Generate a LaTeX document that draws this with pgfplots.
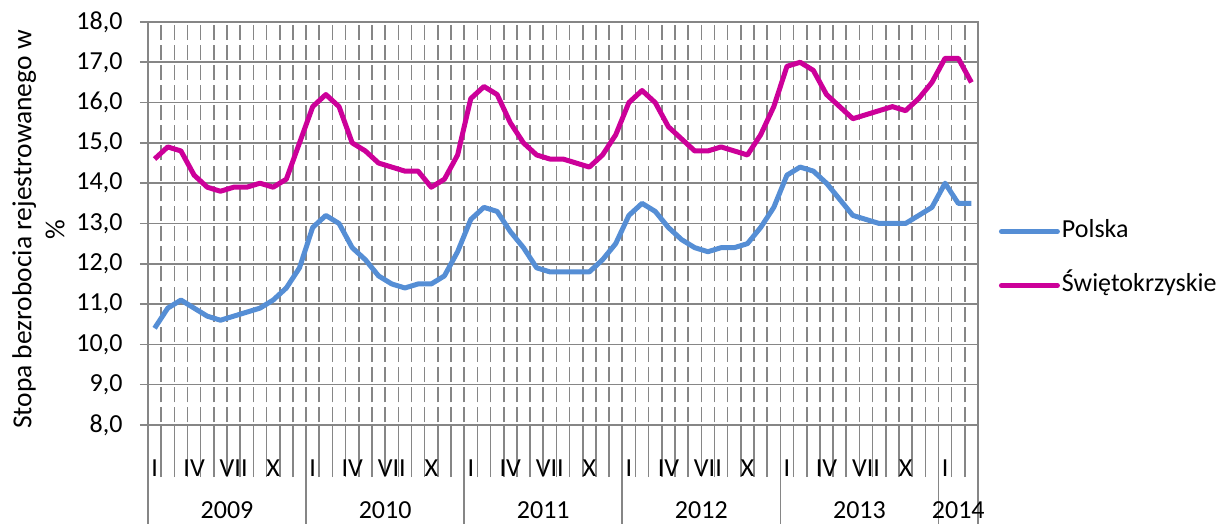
\documentclass[border=0pt]{standalone}
\usepackage{fontspec}
\setmainfont{Carlito}
\usepackage{pgfplots}
\usepackage{pgfplotstable}
\pgfplotsset{compat=1.18}

\definecolor{polska}{RGB}{85,142,213}
\definecolor{swiet}{RGB}{204,0,153}
\definecolor{gridgray}{RGB}{134,134,134}
\newcommand\cf{\fontsize{26}{31}\selectfont}

% monthly unemployment rate, I.2009 - III.2014
\pgfplotstableread{
x    pol   swi
0.5  10.4  14.6
1.5  10.9  14.9
2.5  11.1  14.8
3.5  10.9  14.2
4.5  10.7  13.9
5.5  10.6  13.8
6.5  10.7  13.9
7.5  10.8  13.9
8.5  10.9  14.0
9.5  11.1  13.9
10.5 11.4  14.1
11.5 11.9  15.0
12.5 12.9  15.9
13.5 13.2  16.2
14.5 13.0  15.9
15.5 12.4  15.0
16.5 12.1  14.8
17.5 11.7  14.5
18.5 11.5  14.4
19.5 11.4  14.3
20.5 11.5  14.3
21.5 11.5  13.9
22.5 11.7  14.1
23.5 12.3  14.7
24.5 13.1  16.1
25.5 13.4  16.4
26.5 13.3  16.2
27.5 12.8  15.5
28.5 12.4  15.0
29.5 11.9  14.7
30.5 11.8  14.6
31.5 11.8  14.6
32.5 11.8  14.5
33.5 11.8  14.4
34.5 12.1  14.7
35.5 12.5  15.2
36.5 13.2  16.0
37.5 13.5  16.3
38.5 13.3  16.0
39.5 12.9  15.4
40.5 12.6  15.1
41.5 12.4  14.8
42.5 12.3  14.8
43.5 12.4  14.9
44.5 12.4  14.8
45.5 12.5  14.7
46.5 12.9  15.2
47.5 13.4  15.9
48.5 14.2  16.9
49.5 14.4  17.0
50.5 14.3  16.8
51.5 14.0  16.2
52.5 13.6  15.9
53.5 13.2  15.6
54.5 13.1  15.7
55.5 13.0  15.8
56.5 13.0  15.9
57.5 13.0  15.8
58.5 13.2  16.1
59.5 13.4  16.5
60.5 14.0  17.1
61.5 13.5  17.1
62.5 13.5  16.5
}\dane

\begin{document}
\begin{tikzpicture}
\path[use as bounding box] (0pt,0pt) rectangle (1221pt,524pt);

\begin{axis}[
  at={(148pt,99pt)}, anchor=south west,
  scale only axis, width=830pt, height=403pt,
  xmin=0, xmax=63, ymin=8, ymax=18,
  axis line style={gridgray, line width=1.6pt},
  every tick/.style={gridgray, line width=1.6pt},
  tick align=outside,
  xtick pos=bottom, ytick pos=left,
  major tick length=8pt,
  minor tick length=52pt,
  xtick={0.5,3.5,...,60.5},
  xticklabels={I,IV,VII,X,I,IV,VII,X,I,IV,VII,X,I,IV,VII,X,I,IV,VII,X,I},
  major x tick style={draw=none},
  minor xtick={0,1,...,63},
  ytick={8,9,...,18},
  xmajorgrids=false, xminorgrids=true, ymajorgrids=true,
  minor grid style={gridgray, line width=1.6pt, dash pattern=on 15pt off 5.15pt, dash phase=17.575pt},
  major grid style={gridgray, line width=1.6pt},
  xticklabel style={font=\cf, anchor=base, yshift=-43.5pt},
  yticklabel style={font=\cf, anchor=east, xshift=-14pt,
    /pgf/number format/.cd, fixed, fixed zerofill, precision=1, use comma, assume math mode=true},
  ylabel={Stopa bezrobocia rejestrowanego w\\\%},
  ylabel style={font=\fontsize{27.5}{33}\selectfont, align=center,
    at={(axis description cs:-0.132,0.485)}, anchor=center},
  legend style={at={(1.025,0.413)}, anchor=west, draw=none, fill=none,
    inner sep=0pt, font=\cf, row sep=28pt,
    nodes={text height=17pt, text depth=5pt}, cells={anchor=west}},
  legend image code/.code={\draw[#1, line width=5pt, line cap=round] (0pt,0pt) -- (56pt,0pt);},
]
\addplot[polska, line width=5pt, line join=round] table[x=x, y=pol]{\dane};
\addlegendentry{Polska}
\addplot[swiet, line width=5pt, line join=round] table[x=x, y=swi]{\dane};
\addlegendentry{Świętokrzyskie}
\end{axis}

% second level of the category axis: years
\begin{axis}[
  at={(148pt,99pt)}, anchor=south west,
  scale only axis, width=830pt, height=403pt,
  xmin=0, xmax=63, ymin=8, ymax=18,
  axis x line*=bottom, axis y line=none,
  x axis line style={draw=none},
  every tick/.style={gridgray, line width=1.6pt},
  tick align=outside,
  minor tick length=99pt,
  xtick={6,18,30,42,54,61.5},
  xticklabels={2009,2010,2011,2012,2013,2014},
  major x tick style={draw=none},
  minor xtick={0,12,24,36,48,60,63},
  xticklabel style={font=\cf, anchor=base, inner sep=0pt, outer sep=0pt, yshift=-89pt},
]
\end{axis}
\end{tikzpicture}
\end{document}
